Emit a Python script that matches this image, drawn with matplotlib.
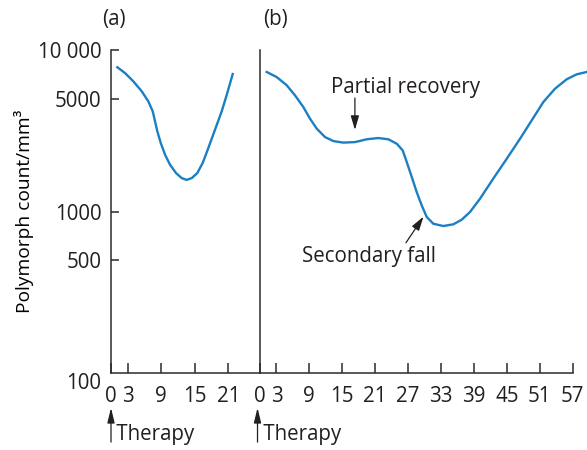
"""Polymorph count after therapy, two courses on a log scale."""

import matplotlib.pyplot as plt

plt.rcParams['font.family'] = ['Open Sans', 'DejaVu Sans']
plt.rcParams['text.color'] = '#231f20'

# (a) single course of therapy
days_a = [1.13, 2.51, 3.99, 5.50, 6.68, 7.47, 7.88, 8.29, 8.90, 9.67, 10.56,
          11.64, 12.66, 13.55, 14.45, 15.45, 16.42, 17.42, 18.62, 19.82,
          20.82, 21.79]
count_a = [7820, 7200, 6400, 5550, 4810, 4170, 3620, 3140, 2660, 2250, 1950,
           1730, 1610, 1570, 1610, 1730, 2000, 2470, 3210, 4170, 5420, 7100]

# (b) partial recovery followed by a secondary fall
days_b = [1.22, 3.04, 4.87, 6.38, 7.89, 9.11, 10.34, 11.85, 13.36, 15.18,
          17.32, 19.45, 21.56, 23.39, 24.92, 26.01, 26.74, 27.65, 28.56,
          29.48, 30.39, 31.59, 33.41, 35.24, 36.77, 38.28, 40.10, 42.53,
          44.97, 47.39, 49.53, 51.64, 53.77, 55.91, 57.73, 59.55]
count_b = [7310, 6800, 6050, 5240, 4440, 3760, 3260, 2890, 2730, 2670, 2690,
           2800, 2850, 2800, 2630, 2390, 2030, 1640, 1320, 1090, 925, 840,
           813, 833, 890, 993, 1200, 1600, 2120, 2820, 3670, 4760, 5760,
           6590, 7070, 7310]

ticks_a = [0, 3, 9, 15, 21]
ticks_b = [0, 3, 9, 15, 21, 27, 33, 39, 45, 51, 57]
yticks = [100, 500, 1000, 5000, 10000]
ytick_labels = ['100', '500', '1000', '5000', '10 000']

LINE = '#1b7fc4'
AXIS = '#2b2b2b'
FS = 14.8

fig = plt.figure(figsize=(5.87, 4.5), dpi=100)
ax_a = fig.add_axes([0.1891, 0.17111, 0.2538, 0.71778])
ax_b = fig.add_axes([0.4429, 0.17111, 0.5571, 0.71778])

for ax in (ax_a, ax_b):
    ax.set_yscale('log')
    ax.set_ylim(100, 10000)
    ax.minorticks_off()
    ax.spines['top'].set_visible(False)
    ax.spines['right'].set_visible(False)
    for side in ('left', 'bottom'):
        ax.spines[side].set_color(AXIS)
        ax.spines[side].set_linewidth(1.1)
    ax.tick_params(axis='x', direction='in', length=7, width=1.1,
                   color=AXIS, labelsize=FS, pad=9, labelcolor='#231f20')
    ax.patch.set_visible(False)

ax_a.plot(days_a, count_a, color=LINE, lw=1.7, solid_joinstyle='round')
ax_a.set_xlim(0, 26.67)
ax_a.set_xticks(ticks_a)
ax_a.set_yticks(yticks)
ax_a.set_yticklabels(ytick_labels)
ax_a.tick_params(axis='y', direction='in', length=6, width=1.1, color=AXIS,
                 labelsize=FS, pad=7, labelcolor='#231f20')
ax_a.get_yticklabels()[0].set_verticalalignment('top')
ax_a.get_yticklines()[0].set_visible(False)

ax_b.plot(days_b, count_b, color=LINE, lw=1.7, solid_joinstyle='round')
ax_b.set_xlim(0, 59.6)
ax_b.set_xticks(ticks_b)
ax_b.spines['bottom'].set_bounds(0, 57)
ax_b.tick_params(axis='y', left=False, labelleft=False)

ax_a.set_ylabel('Polymorph count/mm³', fontsize=13.8)
ax_a.yaxis.set_label_coords(-0.52, 0.5)

fig.text(114 / 587, 1 - 20 / 450, '(a)', fontsize=FS, ha='center',
         va='center')
fig.text(275 / 587, 1 - 20 / 450, '(b)', fontsize=FS, ha='center',
         va='center')

# therapy start markers below each time axis
for ax, x0 in ((ax_a, 0), (ax_b, -0.45)):
    ax.annotate('', xy=(x0, -0.108), xycoords=('data', 'axes fraction'),
                xytext=(x0, -0.214), textcoords=('data', 'axes fraction'),
                arrowprops=dict(arrowstyle='-|>,head_length=0.9,head_width=0.22',
                                color='#231f20', lw=0.9, shrinkA=0,
                                shrinkB=0), annotation_clip=False)
    ax.text(x0, -0.19, ' Therapy', transform=ax.get_xaxis_transform(),
            fontsize=FS, ha='left', va='center', clip_on=False)

arrow = dict(arrowstyle='-|>,head_length=0.85,head_width=0.25',
             color='#231f20', lw=0.9, shrinkA=0, shrinkB=0)
ax_b.annotate('', xy=(17.3, 3200), xytext=(17.3, 5040), arrowprops=arrow)
ax_b.text(12.9, 5900, 'Partial recovery', fontsize=FS, ha='left',
          va='center')
ax_b.annotate('', xy=(29.8, 930), xytext=(26.6, 640), arrowprops=arrow)
ax_b.text(7.6, 530, 'Secondary fall', fontsize=FS, ha='left', va='center')

fig.savefig('out.png', dpi=100)
